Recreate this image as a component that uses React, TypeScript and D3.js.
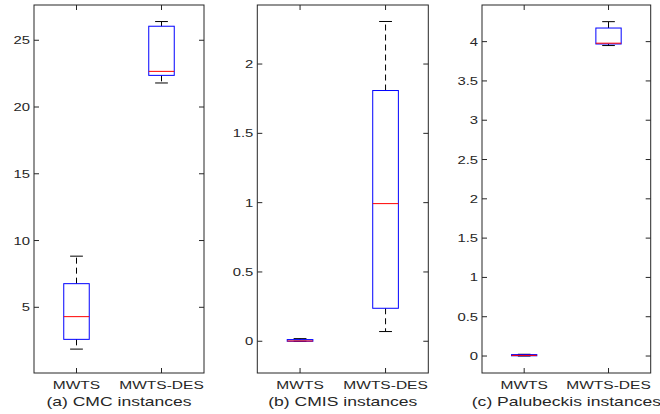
import React from "react";
import * as d3 from "d3";

const categories = ["MWTS", "MWTS-DES"];
const captions = ["(a) CMC instances", "(b) CMIS instances", "(c) Palubeckis instances"];

// [lowerWhisker, q1, median, q3, upperWhisker]
const cmcMWTS = [1.87, 2.6, 4.3, 6.77, 8.83];
const cmcDES = [21.8, 22.37, 22.67, 26.05, 26.4];
const cmisMWTS = [0.0, 0.0, 0.002, 0.012, 0.019];
const cmisDES = [0.07, 0.238, 0.993, 1.809, 2.307];
const palMWTS = [0.0, 0.003, 0.008, 0.018, 0.022];
const palDES = [3.95, 3.97, 3.98, 4.173, 4.254];

const cmcTicks = [5, 10, 15, 20, 25];
const cmisTicks = [0, 0.5, 1, 1.5, 2];
const palTicks = [0, 0.5, 1, 1.5, 2, 2.5, 3, 3.5, 4];

const cmcLimits = [0.08, 27.64];
const cmisLimits = [-0.229, 2.426];
const palLimits = [-0.216, 4.466];

const panels = [
  { left: 34, right: 204, series: [cmcMWTS, cmcDES], ticks: cmcTicks, limits: cmcLimits, caption: captions[0] },
  { left: 257.3, right: 428.3, series: [cmisMWTS, cmisDES], ticks: cmisTicks, limits: cmisLimits, caption: captions[1] },
  { left: 482, right: 650.7, series: [palMWTS, palDES], ticks: palTicks, limits: palLimits, caption: captions[2] },
];

const TOP = 5;
const BOTTOM = 373;
const AX = "#262626";
const SX = 1.35;
const FONT = "'Liberation Sans', Arial, Helvetica, sans-serif";

function Panel({ p }: { p: any }) {
  const x = d3.scaleLinear().domain([0.5, 2.5]).range([p.left, p.right]);
  const y = d3.scaleLinear().domain(p.limits).range([BOTTOM, TOP]);
  const boxHalf = 0.15;
  const capHalf = 0.075;
  const tl = 5;
  return (
    <g>
      {p.series.map((s: number[], i: number) => {
        const c = i + 1;
        const [lw, q1, med, q3, uw] = s;
        return (
          <g key={i}>
            <line x1={x(c)} x2={x(c)} y1={y(q3)} y2={y(uw)} stroke="#000" strokeWidth={1} strokeDasharray="6,4" />
            <line x1={x(c)} x2={x(c)} y1={y(q1)} y2={y(lw)} stroke="#000" strokeWidth={1} strokeDasharray="6,4" />
            <line x1={x(c - capHalf)} x2={x(c + capHalf)} y1={y(uw)} y2={y(uw)} stroke="#000" strokeWidth={1} />
            <line x1={x(c - capHalf)} x2={x(c + capHalf)} y1={y(lw)} y2={y(lw)} stroke="#000" strokeWidth={1} />
            <rect x={x(c - boxHalf)} y={y(q3)} width={x(c + boxHalf) - x(c - boxHalf)} height={Math.max(0.5, y(q1) - y(q3))} fill="none" stroke="#0000ff" strokeWidth={1} />
            <line x1={x(c - boxHalf)} x2={x(c + boxHalf)} y1={y(med)} y2={y(med)} stroke="#ff0000" strokeWidth={1} />
          </g>
        );
      })}
      <rect x={p.left} y={TOP} width={p.right - p.left} height={BOTTOM - TOP} fill="none" stroke={AX} strokeWidth={1} />
      {p.ticks.map((t: number) => (
        <g key={t}>
          <line x1={p.left} x2={p.left + tl} y1={y(t)} y2={y(t)} stroke={AX} />
          <line x1={p.right} x2={p.right - tl} y1={y(t)} y2={y(t)} stroke={AX} />
          <text transform={`translate(${p.left - 4},${y(t) + 4}) scale(${SX},1)`} textAnchor="end" fontSize={11} fill={AX} fontFamily={FONT}>
            {String(t)}
          </text>
        </g>
      ))}
      {categories.map((c, i) => (
        <g key={c}>
          <line x1={x(i + 1)} x2={x(i + 1)} y1={BOTTOM} y2={BOTTOM - tl} stroke={AX} />
          <line x1={x(i + 1)} x2={x(i + 1)} y1={TOP} y2={TOP + tl} stroke={AX} />
          <text transform={`translate(${x(i + 1)},${389}) scale(${SX},1)`} textAnchor="middle" fontSize={11.5} fill={AX} fontFamily={FONT}>
            {c}
          </text>
        </g>
      ))}
      <text transform={`translate(${(p.left + p.right) / 2},${406}) scale(${SX},1)`} textAnchor="middle" fontSize={13} fill={AX} fontFamily={FONT}>
        {p.caption}
      </text>
    </g>
  );
}

export default function App() {
  return (
    <svg width={660} height={414} style={{ position: "absolute", left: 0, top: 0, background: "#fff" }}>
      <rect width={660} height={414} fill="#fff" />
      {panels.map((p, i) => (
        <Panel key={i} p={p} />
      ))}
    </svg>
  );
}
